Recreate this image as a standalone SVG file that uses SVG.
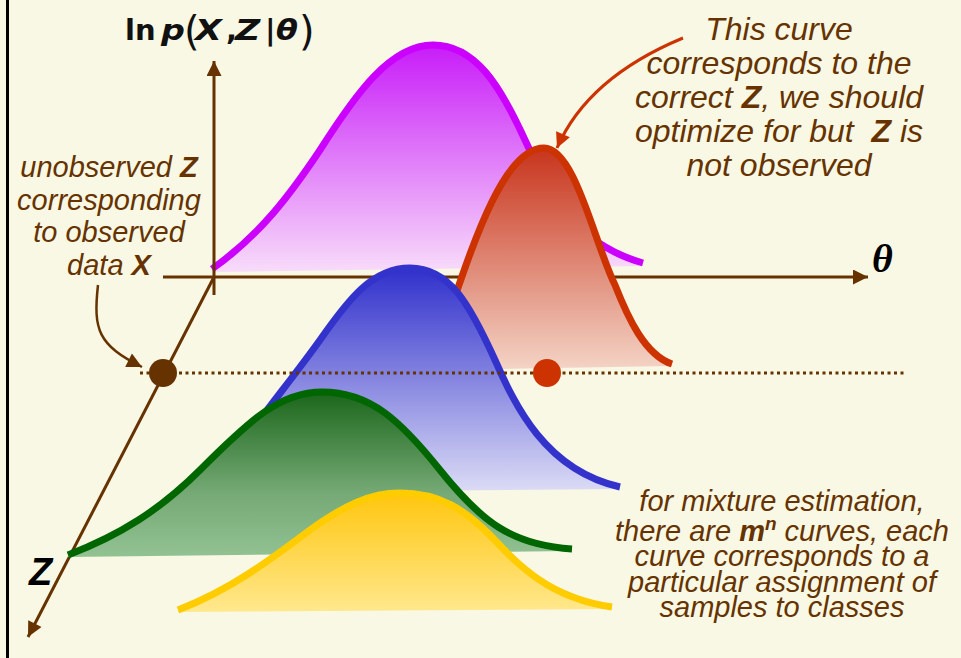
<svg xmlns="http://www.w3.org/2000/svg" width="961" height="658" viewBox="0 0 961 658">
<style>
.ax{stroke:#663300;stroke-width:3;fill:none}
.lbl{font-family:"Liberation Sans",Arial,sans-serif;font-style:italic;fill:#663300;text-anchor:middle}
.b{font-weight:bold}
.curve{fill:none;stroke-width:7;stroke-linecap:butt;stroke-linejoin:round}
.ttl{font-family:"DejaVu Sans",Verdana,sans-serif;font-weight:bold;fill:#111;font-size:29px}
.it{font-style:italic}
.par{font-family:"DejaVu Sans",Verdana,sans-serif;fill:#111;font-size:40px}
</style>
<defs>
<marker id="ab" viewBox="0 0 10 10" refX="10" refY="5" markerUnits="userSpaceOnUse" markerWidth="17" markerHeight="15" orient="auto"><path d="M0,0 L10,5 L0,10 Z" fill="#663300"/></marker>
<marker id="ar" viewBox="0 0 10 10" refX="10" refY="5" markerUnits="userSpaceOnUse" markerWidth="17" markerHeight="15" orient="auto"><path d="M0,0 L10,5 L0,10 Z" fill="#CC3300"/></marker>
<linearGradient id="gP" x1="0" y1="0" x2="0" y2="1"><stop offset="0" stop-color="#C81CF8"/><stop offset="1" stop-color="#F8DCFA"/></linearGradient>
<linearGradient id="gR" x1="0" y1="0" x2="0" y2="1"><stop offset="0" stop-color="#C8341C"/><stop offset="1" stop-color="#F4D4C6"/></linearGradient>
<linearGradient id="gB" x1="0" y1="0" x2="0" y2="1"><stop offset="0" stop-color="#3030CC"/><stop offset="1" stop-color="#DCDCF6"/></linearGradient>
<linearGradient id="gG" x1="0" y1="0" x2="0" y2="1"><stop offset="0" stop-color="#1B661B"/><stop offset="0.6" stop-color="#74A874"/><stop offset="1" stop-color="#92C292"/></linearGradient>
<linearGradient id="gY" x1="0" y1="0" x2="0" y2="1"><stop offset="0" stop-color="#FFC60E"/><stop offset="1" stop-color="#FFE88E"/></linearGradient>
</defs>
<rect width="961" height="658" fill="#F8F8E4"/>
<line x1="7.5" y1="0" x2="7.5" y2="658" stroke="#000" stroke-width="3"/>

<g id="curve-purple">
<path d="M212,269 C260,235 290,195 320,150 C355,95 390,45 433,45 C475,45 500,85 525,140 C555,205 580,245 643,263 L643,266 L212,272 Z" fill="url(#gP)"/>
<path class="curve" stroke="#CC00FF" d="M212,269 C260,235 290,195 320,150 C355,95 390,45 433,45 C475,45 500,85 525,140 C555,205 580,245 643,263"/>
</g>

<g id="connectors">
<path class="ax" d="M214,295 L214,61" marker-end="url(#ab)"/>
<path class="ax" d="M163,277 L868,277" marker-end="url(#ab)"/>
<path class="ax" stroke-width="2.5" d="M214,277 L28,637" marker-end="url(#ab)"/>
</g>

<g id="curve-red">
<path d="M430,368 C460,290 495,148 544,148 C575,148 595,245 615,285 C628,318 645,355 672,364 L672,366 L430,370 Z" fill="url(#gR)"/>
<path class="curve" stroke="#CC3300" d="M430,368 C460,290 495,148 544,148 C575,148 595,245 615,285 C628,318 645,355 672,364"/>
</g>

<g id="curve-blue">
<path d="M245,440 C270,405 295,375 320,340 C348,300 372,268 410,268 C450,268 470,305 495,360 C515,405 545,470 620,487 L620,489 L245,492 Z" fill="url(#gB)"/>
<path class="curve" stroke="#3333CC" d="M245,440 C270,405 295,375 320,340 C348,300 372,268 410,268 C450,268 470,305 495,360 C515,405 545,470 620,487"/>
</g>

<g id="observed-line">
<path d="M140,373 L905,373" stroke="#663300" stroke-width="3" stroke-dasharray="3 3.5" fill="none"/>
</g>
<g id="dot-unobserved"><circle cx="163" cy="373" r="14" fill="#663300"/></g>
<g id="dot-correct"><circle cx="547" cy="373" r="14" fill="#CC3300"/></g>

<g id="curve-green">
<path d="M68,555 C120,535 160,510 200,470 C250,420 280,392 322,392 C370,392 400,420 440,470 C480,520 510,545 572,549 L572,551 L68,557 Z" fill="url(#gG)"/>
<path class="curve" stroke="#006600" stroke-width="8" d="M68,555 C120,535 160,510 200,470 C250,420 280,392 322,392 C370,392 400,420 440,470 C480,520 510,545 572,549"/>
</g>

<g id="curve-yellow">
<path d="M178,610 C230,590 270,560 310,530 C345,505 370,493 400,493 C440,493 465,510 490,535 C520,567 550,598 612,607 L612,609 L178,612 Z" fill="url(#gY)"/>
<path class="curve" stroke="#FFCC00" d="M178,610 C230,590 270,560 310,530 C345,505 370,493 400,493 C440,493 465,510 490,535 C520,567 550,598 612,607"/>
</g>

<g id="title">
<text class="ttl" transform="translate(125,40)">ln</text>
<text class="ttl it" transform="translate(161,40) scale(1.15,1)">p</text>
<text class="par" transform="translate(184,45)">(</text>
<text class="ttl it" transform="translate(195,40) scale(1.2,1)">X</text>
<text class="ttl" transform="translate(226,40)">,</text>
<text class="ttl it" transform="translate(235,40) scale(1.2,1)">Z</text>
<text class="ttl" font-weight="normal" transform="translate(265,40)">|</text>
<text class="ttl it" transform="translate(276,40) scale(1.1,1)">θ</text>
<text class="par" transform="translate(299,45)">)</text>
</g>

<g id="theta-label"><text x="872" y="272" font-family="Liberation Serif,serif" font-weight="bold" font-style="italic" font-size="40" fill="#000">θ</text></g>
<g id="z-label"><text x="29" y="585" font-family="Liberation Sans,Arial,sans-serif" font-weight="bold" font-style="italic" font-size="38" fill="#000">Z</text></g>

<g id="note-unobserved">
<text class="lbl" font-size="29" x="109" y="177">unobserved <tspan class="b">Z</tspan></text>
<text class="lbl" font-size="29" x="109" y="210">corresponding</text>
<text class="lbl" font-size="29" x="109" y="242">to observed</text>
<text class="lbl" font-size="29" x="109" y="275">data <tspan class="b">X</tspan></text>
</g>

<g id="note-correct">
<text class="lbl" font-size="32" x="779" y="40">This curve</text>
<text class="lbl" font-size="32" x="779" y="74">corresponds to the</text>
<text class="lbl" font-size="32" x="779" y="108">correct <tspan class="b">Z</tspan>, we should</text>
<text class="lbl" font-size="32" x="779" y="142">optimize for but&#160; <tspan class="b">Z</tspan> is</text>
<text class="lbl" font-size="32" x="779" y="176">not observed</text>
</g>

<g id="note-mixture">
<text class="lbl" font-size="29" x="782" y="511">for mixture estimation,</text>
<text class="lbl" font-size="29" x="782" y="541">there are <tspan class="b">m</tspan><tspan class="b" font-size="19" dy="-11">n</tspan><tspan dy="11"> curves, each</tspan></text>
<text class="lbl" font-size="29" x="782" y="566">curve corresponds to a</text>
<text class="lbl" font-size="29" x="782" y="592">particular assignment of</text>
<text class="lbl" font-size="29" x="782" y="617">samples to classes</text>
</g>

<g id="arrows">
<path d="M98,285 C93,330 98,345 142,367" stroke="#663300" stroke-width="2.5" fill="none" marker-end="url(#ab)"/>
<path d="M683,38 C630,60 580,95 557,148" stroke="#CC3300" stroke-width="3" fill="none" marker-end="url(#ar)"/>
</g>
</svg>
